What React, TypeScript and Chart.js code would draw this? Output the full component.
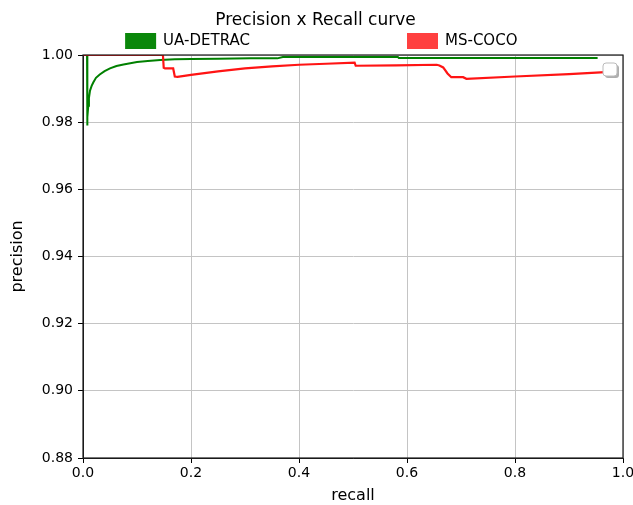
import React, { useEffect, useRef } from "react";
import { Chart, registerables } from "chart.js";

Chart.register(...registerables);

const chartTitle = "Precision x Recall curve";
const xAxisTitle = "recall";
const yAxisTitle = "precision";
const seriesNames = ["UA-DETRAC", "MS-COCO"];
const seriesColors = ["rgb(0,128,0)", "rgb(255,20,20)"];
const legendColors = ["rgb(10,135,10)", "rgb(255,64,64)"];

const xTickValues = [0, 0.2, 0.4, 0.6, 0.8, 1.0];
const yTickValues = [0.88, 0.9, 0.92, 0.94, 0.96, 0.98, 1.0];

const detracRecall = [0, 0.0075, 0.0076, 0.0085, 0.0098, 0.011, 0.013, 0.016, 0.019, 0.024, 0.031, 0.04, 0.05, 0.062, 0.075, 0.1, 0.12, 0.143, 0.17, 0.2, 0.25, 0.31, 0.36, 0.37, 0.45, 0.583, 0.585, 0.75, 0.953];
const detracPrecision = [1.0, 1.0, 0.979, 0.9815, 0.9849, 0.9872, 0.9894, 0.9908, 0.9918, 0.9932, 0.9942, 0.9952, 0.996, 0.9967, 0.9972, 0.9979, 0.9982, 0.9985, 0.9987, 0.9988, 0.9989, 0.999, 0.999, 0.9994, 0.9994, 0.9994, 0.9991, 0.9991, 0.9991];

const cocoRecall = [0, 0.148, 0.1495, 0.152, 0.166, 0.167, 0.17, 0.175, 0.2, 0.25, 0.3, 0.35, 0.4, 0.45, 0.503, 0.505, 0.58, 0.655, 0.66, 0.667, 0.675, 0.682, 0.704, 0.71, 0.8, 0.9, 0.967];
const cocoPrecision = [1.0, 1.0, 0.9962, 0.996, 0.996, 0.996, 0.9936, 0.9935, 0.9941, 0.9951, 0.996, 0.9966, 0.9971, 0.9974, 0.9977, 0.9968, 0.9969, 0.9971, 0.9969, 0.9963, 0.9945, 0.9934, 0.9934, 0.9929, 0.9936, 0.9943, 0.9949];

const FONT = '"DejaVu Sans", sans-serif';

const toPoints = (xs: number[], ys: number[]) => xs.map((x, i) => ({ x, y: ys[i] }));

const decorPlugin = {
  id: "decor",
  afterDraw(chart: any) {
    const { ctx, chartArea: a } = chart;
    ctx.save();
    // frame
    ctx.strokeStyle = "#1a1a1a";
    ctx.lineWidth = 1.2;
    ctx.strokeRect(a.left, a.top, a.right - a.left, a.bottom - a.top);

    // empty legend frame artifact
    const bx = a.right - 20, by = a.top + 8, bw = 14, bh = 13, r = 3;
    ctx.fillStyle = "rgba(120,120,120,0.6)";
    ctx.beginPath();
    ctx.roundRect(bx + 2, by + 2, bw, bh, r);
    ctx.fill();
    ctx.fillStyle = "#fff";
    ctx.strokeStyle = "#bbb";
    ctx.lineWidth = 1;
    ctx.beginPath();
    ctx.roundRect(bx, by, bw, bh, r);
    ctx.fill();
    ctx.stroke();

    // legend
    const w = a.right - a.left;
    const legendX = [a.left + 0.078 * w, a.left + 0.6 * w];
    const cy = a.top - 14;
    ctx.font = `15px ${FONT}`;
    ctx.textBaseline = "middle";
    ctx.textAlign = "left";
    seriesNames.forEach((name, i) => {
      ctx.fillStyle = legendColors[i];
      ctx.fillRect(legendX[i], cy - 8, 31, 16);
      ctx.fillStyle = "#000";
      ctx.fillText(name, legendX[i] + 38, cy);
    });
    ctx.restore();
  },
};

function PRChart() {
  const ref = useRef<HTMLCanvasElement | null>(null);
  useEffect(() => {
    if (!ref.current) return;
    const chart = new Chart(ref.current, {
      type: "line",
      data: {
        datasets: [
          {
            label: seriesNames[0],
            data: toPoints(detracRecall, detracPrecision),
            borderColor: seriesColors[0],
            backgroundColor: seriesColors[0],
            borderWidth: 2,
            pointRadius: 0,
            tension: 0,
            order: 2,
          },
          {
            label: seriesNames[1],
            data: toPoints(cocoRecall, cocoPrecision),
            borderColor: seriesColors[1],
            backgroundColor: seriesColors[1],
            borderWidth: 2.2,
            pointRadius: 0,
            tension: 0,
            order: 1,
          },
        ],
      },
      options: {
        responsive: false,
        animation: false,
        layout: { padding: { left: 8, right: 10, top: 0, bottom: 0 } },
        plugins: {
          legend: { display: false },
          tooltip: { enabled: false },
          title: {
            display: true,
            text: chartTitle,
            color: "#000",
            font: { family: FONT, size: 17, weight: "normal" },
            padding: { top: 10, bottom: 24.6 },
          },
        },
        scales: {
          x: {
            type: "linear",
            min: 0,
            max: 1,
            afterFit: (s: any) => { s.height = 47; s.paddingLeft = 0; s.paddingRight = 0; },
            afterBuildTicks: (s: any) => { s.ticks = xTickValues.map((v) => ({ value: v })); },
            ticks: {
              color: "#000",
              font: { family: FONT, size: 14 },
              padding: 2,
              maxRotation: 0,
              callback: (v: any) => Number(v).toFixed(1),
            },
            grid: { color: "#c4c4c4", lineWidth: 1, tickColor: "#000", tickLength: 5 },
            border: { color: "#1a1a1a", width: 1 },
            title: {
              display: true,
              text: xAxisTitle,
              color: "#000",
              font: { family: FONT, size: 16 },
              padding: 0,
            },
          },
          y: {
            type: "linear",
            min: 0.88,
            max: 1.0,
            afterFit: (s: any) => { s.width = 75; s.paddingTop = 0; s.paddingBottom = 0; },
            afterBuildTicks: (s: any) => { s.ticks = yTickValues.map((v) => ({ value: v })); },
            ticks: {
              color: "#000",
              font: { family: FONT, size: 14 },
              padding: 5,
              callback: (v: any) => Number(v).toFixed(2),
            },
            grid: { color: "#c4c4c4", lineWidth: 1, tickColor: "#000", tickLength: 5 },
            border: { color: "#1a1a1a", width: 1 },
            title: {
              display: true,
              text: yAxisTitle,
              color: "#000",
              font: { family: FONT, size: 16 },
              padding: 0,
            },
          },
        },
      },
      plugins: [decorPlugin],
    });
    return () => chart.destroy();
  }, []);
  return <canvas ref={ref} width={633} height={505} style={{ display: "block" }} />;
}

export default function App() {
  return (
    <div style={{ position: "fixed", left: 0, top: 0, width: 633, height: 505, background: "#fff" }}>
      <PRChart />
    </div>
  );
}
